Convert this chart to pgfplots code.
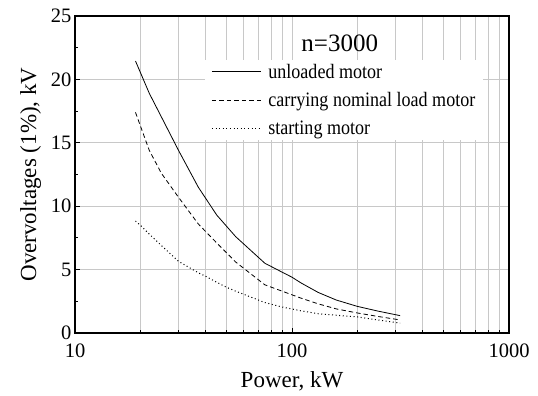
\documentclass[border=0pt]{standalone}
\usepackage{fontspec}
\setmainfont{Liberation Serif}
\newfontfamily\condfont[FakeStretch=0.88]{Liberation Serif}
\usepackage{pgfplots}
\pgfplotsset{compat=1.18}
\definecolor{gridgray}{RGB}{200,200,200}
\begin{document}
\begin{tikzpicture}
\begin{axis}[
  scale only axis,
  width=434pt, height=317pt,
  xmode=log, xmin=10, xmax=1000,
  ymin=0, ymax=25,
  xtick={10,100,1000}, xticklabels={10,100,1000},
  ytick={0,5,10,15,20,25},
  minor y tick num=1,
  xmajorgrids=true, xminorgrids=true, ymajorgrids=true,
  grid style={gridgray, line width=0.8pt},
  minor grid style={gridgray, line width=0.8pt},
  tick align=inside,
  xtick pos=bottom, ytick pos=left,
  major tick length=5pt, minor tick length=3pt,
  tick style={black, line width=0.8pt},
  axis line style={black, line width=1.2pt},
  /pgf/number format/assume math mode=true,
  ticklabel style={font=\fontsize{20.5}{24}\selectfont},
  xticklabel style={yshift=-7pt},
  label style={font=\fontsize{23}{27}\selectfont},
  xlabel={Power, kW},
  ylabel={Overvoltages (1\%), kV},
  xlabel style={yshift=-7pt},
  ylabel style={yshift=3pt},
  legend style={draw=none, fill=white, at={(0.30,0.862)}, anchor=north west,
    font=\condfont\fontsize{20.5}{22}\selectfont, inner xsep=6pt, inner ysep=2pt,
    row sep=9pt, /tikz/every odd column/.append style={column sep=5pt},
    /tikz/every even column/.append style={column sep=16pt}},
  legend cell align=left,
  legend image code/.code={\draw[#1] (0pt,0pt) -- (49pt,0pt);},
]
\addplot[black, line width=0.8pt] coordinates {
 (19,21.45) (22,18.9) (30,14.4) (37,11.5) (45,9.3) (55,7.6) (75,5.5)
 (90,4.8) (100,4.4) (110,3.95) (132,3.2) (160,2.6) (200,2.1) (250,1.72) (315,1.37)};
\addlegendentry{unloaded motor}
\addplot[black, line width=0.8pt, dash pattern=on 4.5pt off 3pt] coordinates {
 (19,17.4) (22,14.4) (25,12.6) (30,10.7) (37,8.6) (45,7.1) (55,5.6) (75,3.8)
 (90,3.3) (110,2.75) (132,2.3) (160,1.9) (200,1.58) (250,1.3) (315,1.03)};
\addlegendentry{carrying nominal load motor}
\addplot[black, line width=1pt, dash pattern=on 1pt off 2.6pt] coordinates {
 (19,8.83) (20,8.5) (22,7.8) (25,6.9) (30,5.65) (37,4.75) (40,4.47) (45,4.0)
 (50,3.6) (55,3.3) (75,2.4) (90,2.05) (110,1.75) (132,1.52) (160,1.4)
 (200,1.27) (250,1.02) (315,0.78)};
\addlegendentry{starting motor}
\node[font=\fontsize{25}{28}\selectfont] at (rel axis cs:0.61,0.915) {n=3000};
\end{axis}
\path ([shift={(-75pt,-63pt)}]current axis.south west) rectangle ([shift={(29pt,16pt)}]current axis.north east);
\end{tikzpicture}
\end{document}
